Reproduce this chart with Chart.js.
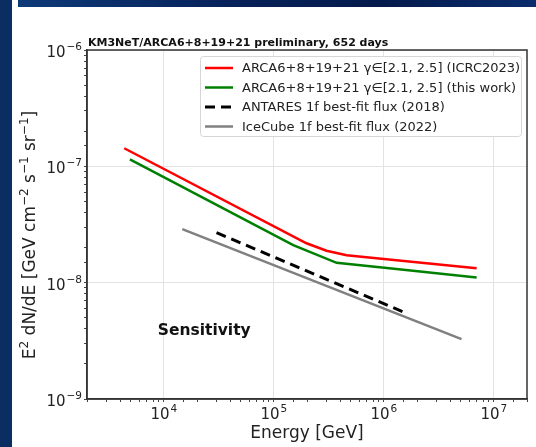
<!DOCTYPE html>
<html>
<head>
<meta charset="utf-8">
<script src="https://cdn.jsdelivr.net/npm/chart.js@4.4.1/dist/chart.umd.min.js"></script>
<style>
  html, body { margin: 0; padding: 0; background: #fff; }
  #wrap { position: relative; width: 536px; height: 447px; overflow: hidden; }
  #topBand { position: absolute; left: 18px; top: 0; width: 518px; height: 7px;
    background: linear-gradient(90deg, #0e3a78 0%, #07225a 40%, #041a4c 70%, #0a2c6c 100%); }
  #leftBand { position: absolute; left: 0; top: 0; width: 12px; height: 447px; background: #0b2e62; }
  canvas { position: absolute; left: 0; top: 0; }
</style>
</head>
<body>
<div id="wrap">
  <canvas id="sensChart" width="536" height="447"></canvas>
  <div id="topBand"></div>
  <div id="leftBand"></div>
</div>
<script>
// energies in GeV, fluxes in GeV cm^-2 s^-1 sr^-1
const icrcEnergy = [4360, 1.98e5, 3.01e5, 4.58e5, 1.30e6, 6.97e6];
const icrcFlux = [1.43e-7, 2.18e-8, 1.88e-8, 1.72e-8, 1.56e-8, 1.33e-8];

const thisWorkEnergy = [4910, 1.50e5, 3.72e5, 1.30e6, 6.97e6];
const thisWorkFlux = [1.15e-7, 2.10e-8, 1.48e-8, 1.31e-8, 1.11e-8];

const antaresEnergy = [3.01e4, 1.5e6];
const antaresFlux = [2.69e-8, 5.6e-9];

const icecubeEnergy = [1.47e4, 5.08e6];
const icecubeFlux = [2.89e-8, 3.27e-9];

const seriesLabels = [
  "ARCA6+8+19+21 γ∈[2.1, 2.5] (ICRC2023)",
  "ARCA6+8+19+21 γ∈[2.1, 2.5] (this work)",
  "ANTARES 1f best-fit flux (2018)",
  "IceCube 1f best-fit flux (2022)"
];

const xMin = 2000, xMax = 2e7;
const yMin = 1e-9, yMax = 1e-6;

const titleText = "KM3NeT/ARCA6+8+19+21 preliminary, 652 days";
const noteText = "Sensitivity";
const xTitle = "Energy [GeV]";
// y title pieces: [text, isSuperscript]
const yTitleParts = [["E", 0], ["2", 1], [" dN/dE [GeV cm", 0], ["−2", 1], [" s", 0],
  ["−1", 1], [" sr", 0], ["−1", 1], ["]", 0]];

function toPoints(xs, ys) {
  return xs.map((x, i) => ({ x: x, y: ys[i] }));
}

function isDecade(v) {
  const l = Math.log10(v);
  return Math.abs(l - Math.round(l)) < 1e-6;
}

const font = "'DejaVu Sans', sans-serif";
const baseFont = "15px " + font;
const supFont = "10.5px " + font;

// draws "10" with a raised exponent
function drawPower(ctx, exp, x, y, align) {
  const e = String(exp).replace("-", "−");
  ctx.font = baseFont;
  const wBase = ctx.measureText("10").width;
  ctx.font = supFont;
  const wSup = ctx.measureText(e).width;
  const total = wBase + wSup + 1;
  let start = x;
  if (align === "center") start = x - total / 2;
  if (align === "right") start = x - total;
  ctx.textAlign = "left";
  ctx.textBaseline = "alphabetic";
  ctx.font = baseFont;
  ctx.fillText("10", start, y);
  ctx.font = supFont;
  ctx.fillText(e, start + wBase + 1, y - 7);
}

// title, frame, tick labels, legend and text label
const extrasPlugin = {
  id: "extras",
  afterDraw(chart) {
    const ctx = chart.ctx;
    const area = chart.chartArea;
    const xs = chart.scales.x, ys = chart.scales.y;
    ctx.save();

    // frame around the axes
    ctx.strokeStyle = "#333";
    ctx.lineWidth = 1.5;
    ctx.strokeRect(area.left, area.top, area.right - area.left, area.bottom - area.top);

    // tick labels
    ctx.fillStyle = "#222";
    xs.ticks.forEach(t => {
      if (!isDecade(t.value)) return;
      drawPower(ctx, Math.round(Math.log10(t.value)), xs.getPixelForValue(t.value), area.bottom + 20, "center");
    });
    ys.ticks.forEach(t => {
      if (!isDecade(t.value)) return;
      drawPower(ctx, Math.round(Math.log10(t.value)), area.left - 5, ys.getPixelForValue(t.value) + 7, "right");
    });

    // y axis title, rotated
    ctx.save();
    ctx.translate(35, 235);
    ctx.rotate(-Math.PI / 2);
    const yBase = "17px " + font, ySup = "12px " + font;
    let total = 0;
    yTitleParts.forEach(p => { ctx.font = p[1] ? ySup : yBase; total += ctx.measureText(p[0]).width; });
    let px = -total / 2;
    ctx.fillStyle = "#222";
    ctx.textAlign = "left";
    ctx.textBaseline = "alphabetic";
    yTitleParts.forEach(p => {
      ctx.font = p[1] ? ySup : yBase;
      ctx.fillText(p[0], px, p[1] ? -7.5 : 0);
      px += ctx.measureText(p[0]).width;
    });
    ctx.restore();

    // title
    ctx.fillStyle = "#111";
    ctx.font = "bold 11px " + font;
    ctx.textAlign = "left";
    ctx.textBaseline = "alphabetic";
    ctx.fillText(titleText, area.left + 1, area.top - 4);

    // sensitivity note
    ctx.font = "bold 15.5px " + font;
    ctx.fillStyle = "#111";
    ctx.textBaseline = "middle";
    ctx.fillText(noteText, xs.getPixelForValue(8800), ys.getPixelForValue(3.85e-9));

    // legend box
    const bx = 200, by = 56, bw = 321, bh = 80;
    ctx.fillStyle = "rgba(255,255,255,0.9)";
    ctx.strokeStyle = "#d6d6d6";
    ctx.lineWidth = 1;
    ctx.beginPath();
    ctx.roundRect(bx + 0.5, by + 0.5, bw, bh, 3);
    ctx.fill();
    ctx.stroke();

    ctx.font = "13px " + font;
    chart.data.datasets.forEach((ds, i) => {
      const y = by + 12 + i * 19.5;
      ctx.strokeStyle = ds.borderColor;
      ctx.lineWidth = ds.borderWidth;
      ctx.setLineDash(ds.borderDash || []);
      ctx.beginPath();
      ctx.moveTo(bx + 5, y);
      ctx.lineTo(bx + 33, y);
      ctx.stroke();
      ctx.setLineDash([]);
      ctx.fillStyle = "#222";
      ctx.textBaseline = "middle";
      ctx.fillText(ds.label, bx + 42, y + 1);
    });

    ctx.restore();
  }
};

const ctx = document.getElementById("sensChart").getContext("2d");

const sensChart = new Chart(ctx, {
  type: "line",
  data: {
    datasets: [
      {
        label: seriesLabels[0],
        data: toPoints(icrcEnergy, icrcFlux),
        borderColor: "#ff0000",
        borderWidth: 2.5
      },
      {
        label: seriesLabels[1],
        data: toPoints(thisWorkEnergy, thisWorkFlux),
        borderColor: "#008000",
        borderWidth: 2.5
      },
      {
        label: seriesLabels[2],
        data: toPoints(antaresEnergy, antaresFlux),
        borderColor: "#000000",
        borderWidth: 3,
        borderDash: [10, 6]
      },
      {
        label: seriesLabels[3],
        data: toPoints(icecubeEnergy, icecubeFlux),
        borderColor: "#808080",
        borderWidth: 2.5
      }
    ]
  },
  options: {
    responsive: false,
    animation: false,
    parsing: false,
    elements: {
      point: { radius: 0 },
      line: { tension: 0, fill: false, borderCapStyle: "butt" }
    },
    layout: { padding: { left: 12, top: 50, right: 9, bottom: 0 } },
    plugins: {
      legend: { display: false },
      title: { display: false },
      tooltip: { enabled: false }
    },
    scales: {
      x: {
        type: "logarithmic",
        min: xMin,
        max: xMax,
        afterFit: s => { s.height = 48; },
        border: { color: "#333", width: 1.5 },
        grid: {
          color: c => (c.tick && isDecade(c.tick.value)) ? "#e3e3e3" : "rgba(0,0,0,0)",
          tickColor: "#444",
          tickLength: 3
        },
        ticks: { display: false, autoSkip: false, maxRotation: 0 },
        title: {
          display: true,
          text: xTitle,
          color: "#222",
          font: { family: font, size: 17 },
          padding: { top: 0, bottom: 3 }
        }
      },
      y: {
        type: "logarithmic",
        min: yMin,
        max: yMax,
        afterFit: s => { s.width = 75; },
        border: { color: "#333", width: 1.5 },
        grid: {
          color: c => (c.tick && isDecade(c.tick.value)) ? "#e3e3e3" : "rgba(0,0,0,0)",
          tickColor: "#444",
          tickLength: 3
        },
        ticks: { display: false, autoSkip: false }
      }
    }
  },
  plugins: [extrasPlugin]
});
</script>
</body>
</html>
